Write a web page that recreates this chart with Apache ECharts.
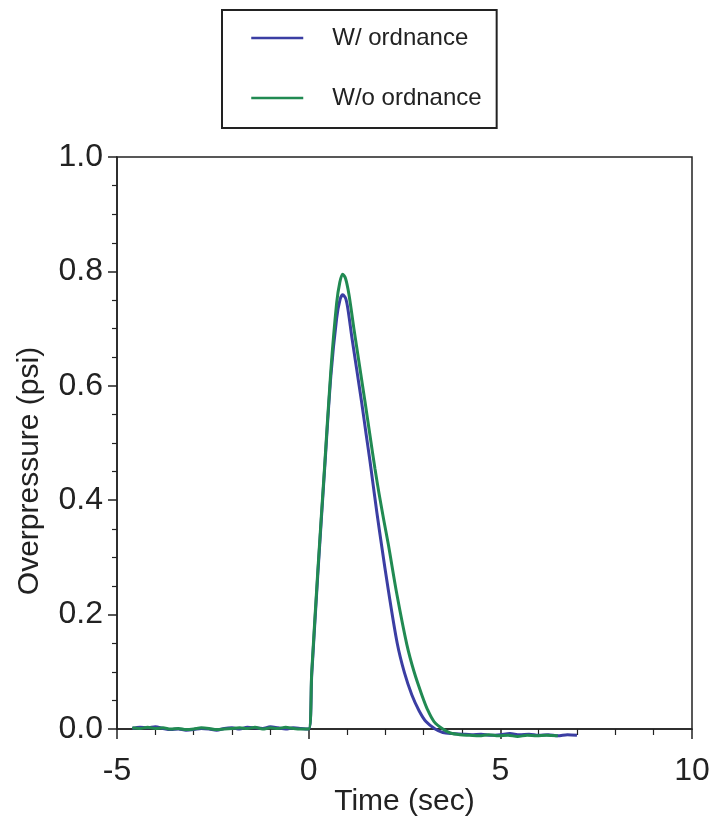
<!DOCTYPE html>
<html>
<head>
<meta charset="utf-8">
<script src="https://cdn.jsdelivr.net/npm/echarts@6/dist/echarts.min.js"></script>
<style>
  html, body { margin: 0; padding: 0; background: #fff; }
  #chart { width: 710px; height: 821px; }
</style>
</head>
<body>
<div id="chart"></div>
<script>
// W/ ordnance (blue)
let blueT = [-4.6, -4.4, -4.2, -4.0, -3.8, -3.6, -3.4, -3.2, -3.0, -2.8, -2.6, -2.4, -2.2, -2.0, -1.8, -1.6, -1.4, -1.2, -1.0, -0.8, -0.6, -0.4, -0.2, 0,
  0.08, 0.24, 0.41, 0.58, 0.73, 0.82, 0.89, 0.97, 1.04, 1.12, 1.25, 1.38, 1.5, 1.6, 1.67, 1.78, 1.9, 2.08, 2.31, 2.5, 2.69, 2.88, 3.06, 3.3,
  3.5, 3.75, 4.0, 4.25, 4.5, 4.75, 5.0, 5.25, 5.5, 5.75, 6.0, 6.25, 6.5, 6.75, 7.0];
let blueV = [0.001, 0.003, 0.002, 0.004, 0.001, -0.001, 0.0, -0.002, -0.001, 0.001, 0.0, -0.002, 0.001, 0.002, 0.0, 0.003, 0.002, 0.001, 0.004, 0.002, 0.0, 0.002, 0.001, 0.0,
  0.095, 0.272, 0.448, 0.618, 0.718, 0.751, 0.759, 0.752, 0.727, 0.688, 0.63, 0.572, 0.515, 0.468, 0.433, 0.378, 0.322, 0.242, 0.15, 0.098, 0.06, 0.032, 0.013, 0.0,
  -0.006, -0.008, -0.009, -0.01, -0.009, -0.011, -0.01, -0.008, -0.01, -0.009, -0.011, -0.01, -0.012, -0.01, -0.011];

// W/o ordnance (green)
let greenT = [-4.6, -4.4, -4.2, -4.0, -3.8, -3.6, -3.4, -3.2, -3.0, -2.8, -2.6, -2.4, -2.2, -2.0, -1.8, -1.6, -1.4, -1.2, -1.0, -0.8, -0.6, -0.4, -0.2, 0,
  0.08, 0.24, 0.41, 0.58, 0.73, 0.81, 0.885, 0.96, 1.05, 1.18, 1.32, 1.47, 1.6, 1.73, 1.84, 1.96, 2.08, 2.3, 2.56, 2.75, 2.95, 3.1, 3.27, 3.5,
  3.7, 3.95, 4.2, 4.45, 4.7, 4.95, 5.2, 5.45, 5.7, 5.95, 6.2, 6.5];
let greenV = [0.002, 0.001, 0.003, 0.001, 0.002, 0.0, 0.001, -0.001, 0.0, 0.002, 0.001, -0.001, 0.0, 0.001, 0.002, 0.001, 0.003, 0.0, 0.002, 0.001, 0.003, 0.001, 0.0, 0.0,
  0.1, 0.278, 0.453, 0.628, 0.745, 0.78, 0.795, 0.788, 0.76, 0.7, 0.638, 0.572, 0.513, 0.455, 0.41, 0.365, 0.322, 0.236, 0.148, 0.1, 0.06, 0.034, 0.013, 0.0,
  -0.007, -0.01, -0.011, -0.012, -0.01, -0.012, -0.011, -0.013, -0.011, -0.012, -0.011, -0.012];

let xTicks = [-5, 0, 5, 10];
let yTicks = [0, 0.2, 0.4, 0.6, 0.8, 1.0];

let blueColor = '#3b3ea3';
let greenColor = '#218a52';
let font = 'Liberation Sans, Arial, Helvetica, sans-serif';

function pairs(ts, vs) {
  return ts.map((t, i) => [t, vs[i]]);
}

let chart = echarts.init(document.getElementById('chart'));
let option = {
  animation: false,
  backgroundColor: '#fff',
  textStyle: { fontFamily: font, color: '#222' },
  grid: {
    left: 117, right: 18, top: 157, bottom: 92,
    outerBoundsMode: 'none',
    containLabel: false,
    show: true, borderColor: '#222', borderWidth: 1.5
  },
  legend: {
    orient: 'vertical',
    left: 222, top: 10,
    padding: [16, 15, 18, 28],
    borderColor: '#222', borderWidth: 2,
    itemWidth: 52, itemHeight: 22, itemGap: 36,
    itemStyle: { opacity: 0 },
    lineStyle: { width: 2.5 },
    textStyle: { fontSize: 24, color: '#222', padding: [0, 0, 0, 24], lineHeight: 22 },
    data: ['W/ ordnance', 'W/o ordnance']
  },
  // y axis title sits a bit below the middle of the axis in the original
  graphic: [{
    type: 'text',
    x: 30, y: 471,
    rotation: Math.PI / 2,
    style: {
      text: 'Overpressure (psi)',
      font: '30px ' + font,
      fill: '#222',
      align: 'center',
      verticalAlign: 'middle'
    }
  }],
  xAxis: {
    type: 'value',
    min: xTicks[0], max: xTicks[xTicks.length - 1], interval: 5,
    name: 'Time (sec)', nameLocation: 'middle', nameGap: 58,
    nameMoveOverlap: false,
    nameTextStyle: { fontSize: 30, color: '#222' },
    axisLine: { onZero: false, lineStyle: { color: '#222', width: 1.5 } },
    axisTick: { length: 10, lineStyle: { color: '#222', width: 1.5 } },
    minorTick: { show: true, splitNumber: 5, length: 6, lineStyle: { color: '#222', width: 1.2 } },
    axisLabel: { fontSize: 32, color: '#222', margin: 26 },
    splitLine: { show: false }
  },
  yAxis: {
    type: 'value',
    min: yTicks[0], max: yTicks[yTicks.length - 1], interval: 0.2,
    axisLine: { show: true, onZero: false, lineStyle: { color: '#222', width: 1.5 } },
    axisTick: { show: true, length: 9, lineStyle: { color: '#222', width: 1.5 } },
    minorTick: { show: true, splitNumber: 4, length: 5, lineStyle: { color: '#222', width: 1.2 } },
    axisLabel: { fontSize: 32, color: '#222', margin: 14, formatter: v => v.toFixed(1) },
    splitLine: { show: false }
  },
  series: [
    {
      name: 'W/ ordnance',
      type: 'line',
      symbol: 'none',
      smooth: 0.3,
      clip: false,
      color: blueColor,
      lineStyle: { color: blueColor, width: 3 },
      data: pairs(blueT, blueV)
    },
    {
      name: 'W/o ordnance',
      type: 'line',
      symbol: 'none',
      smooth: 0.3,
      clip: false,
      color: greenColor,
      lineStyle: { color: greenColor, width: 3 },
      data: pairs(greenT, greenV)
    }
  ]
};
chart.setOption(option);
</script>
</body>
</html>
